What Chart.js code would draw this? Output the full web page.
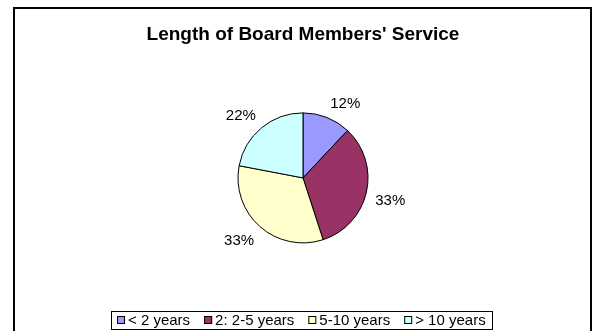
<!DOCTYPE html>
<html>
<head>
<meta charset="utf-8">
<script src="https://cdn.jsdelivr.net/npm/chart.js@4/dist/chart.umd.min.js"></script>
<style>
  html, body { margin: 0; padding: 0; background: #fff; overflow: hidden; }
  #wrap { width: 595px; height: 331px; position: relative; }
</style>
</head>
<body>
<div id="wrap"><canvas id="c" width="595" height="331"></canvas></div>
<script>
// Length of service categories and their share of board members (%)
const categories = ['< 2 years', '2: 2-5 years', '5-10 years', '> 10 years'];
const shares = [12, 33, 33, 22];
const sliceColors = ['#9999FF', '#993366', '#FFFFCC', '#CCFFFF'];
const chartTitle = "Length of Board Members' Service";

const FONT = "'Liberation Sans', Arial, Helvetica, sans-serif";

// Frame around the whole chart
const framePlugin = {
  id: 'frame',
  beforeDraw(chart) {
    const ctx = chart.ctx;
    ctx.save();
    ctx.fillStyle = '#fff';
    ctx.fillRect(0, 0, chart.width, chart.height);
    ctx.strokeStyle = '#000';
    ctx.lineWidth = 2;
    ctx.strokeRect(14, 8, 577, 400);
    ctx.restore();
  }
};

// Percentage labels placed just outside each slice: the label box corner
// nearest the pie sits a small gap beyond the rim, on the slice's mid-angle
const sliceLabelPlugin = {
  id: 'sliceLabels',
  afterDatasetsDraw(chart) {
    const ctx = chart.ctx;
    const meta = chart.getDatasetMeta(0);
    const values = chart.data.datasets[0].data;
    ctx.save();
    ctx.font = '15px ' + FONT;
    ctx.fillStyle = '#000';
    ctx.textAlign = 'center';
    ctx.textBaseline = 'middle';
    meta.data.forEach((arc, i) => {
      const p = arc.getProps(['x', 'y', 'startAngle', 'endAngle', 'outerRadius'], true);
      const mid = (p.startAngle + p.endAngle) / 2;
      const dx = Math.cos(mid), dy = Math.sin(mid);
      const text = values[i] + '%';
      const w = ctx.measureText(text).width;
      const h = 12;
      const gap = 9;
      const ax = p.x + dx * (p.outerRadius + gap);
      const ay = p.y + dy * (p.outerRadius + gap);
      ctx.fillText(text, ax + Math.sign(dx) * w / 2, ay + Math.sign(dy) * h / 2 + 1);
    });
    ctx.restore();
  }
};

// Boxed legend along the bottom
const boxedLegendPlugin = {
  id: 'boxedLegend',
  afterDraw(chart) {
    const ctx = chart.ctx;
    const ds = chart.data.datasets[0];
    const labels = chart.data.labels;
    const marker = 8, markerGap = 3, itemGap = 14, pad = 6;
    const cy = 320;
    ctx.save();
    ctx.font = '15px ' + FONT;
    const widths = labels.map(l => ctx.measureText(l).width);
    let total = pad * 2 + (labels.length - 1) * itemGap;
    widths.forEach(w => { total += marker + markerGap + w; });
    const left = Math.round(301 - total / 2);
    ctx.strokeStyle = '#000';
    ctx.lineWidth = 1;
    ctx.strokeRect(left + 0.5, 311.5, Math.round(total), 18);
    let x = left + pad;
    ctx.textBaseline = 'middle';
    ctx.textAlign = 'left';
    labels.forEach((l, i) => {
      ctx.fillStyle = ds.backgroundColor[i];
      ctx.fillRect(x, cy - marker / 2, marker, marker);
      ctx.strokeStyle = '#000';
      ctx.strokeRect(x + 0.5, cy - marker / 2 + 0.5, marker - 1, marker - 1);
      x += marker + markerGap;
      ctx.fillStyle = '#000';
      ctx.fillText(l, x, cy + 1);
      x += widths[i] + itemGap;
    });
    ctx.restore();
  }
};

new Chart(document.getElementById('c'), {
  type: 'pie',
  data: {
    labels: categories,
    datasets: [{
      data: shares,
      backgroundColor: sliceColors,
      borderColor: '#000',
      borderWidth: 1
    }]
  },
  options: {
    responsive: false,
    animation: false,
    devicePixelRatio: 1,
    radius: 65,
    layout: { padding: { top: 0, bottom: 22, left: 22, right: 11 } },
    plugins: {
      legend: { display: false },
      tooltip: { enabled: false },
      title: {
        display: true,
        text: chartTitle,
        color: '#000',
        font: { family: FONT, size: 19, weight: 'bold' },
        padding: { top: 23, bottom: 1 }
      }
    }
  },
  plugins: [framePlugin, sliceLabelPlugin, boxedLegendPlugin]
});
</script>
</body>
</html>
